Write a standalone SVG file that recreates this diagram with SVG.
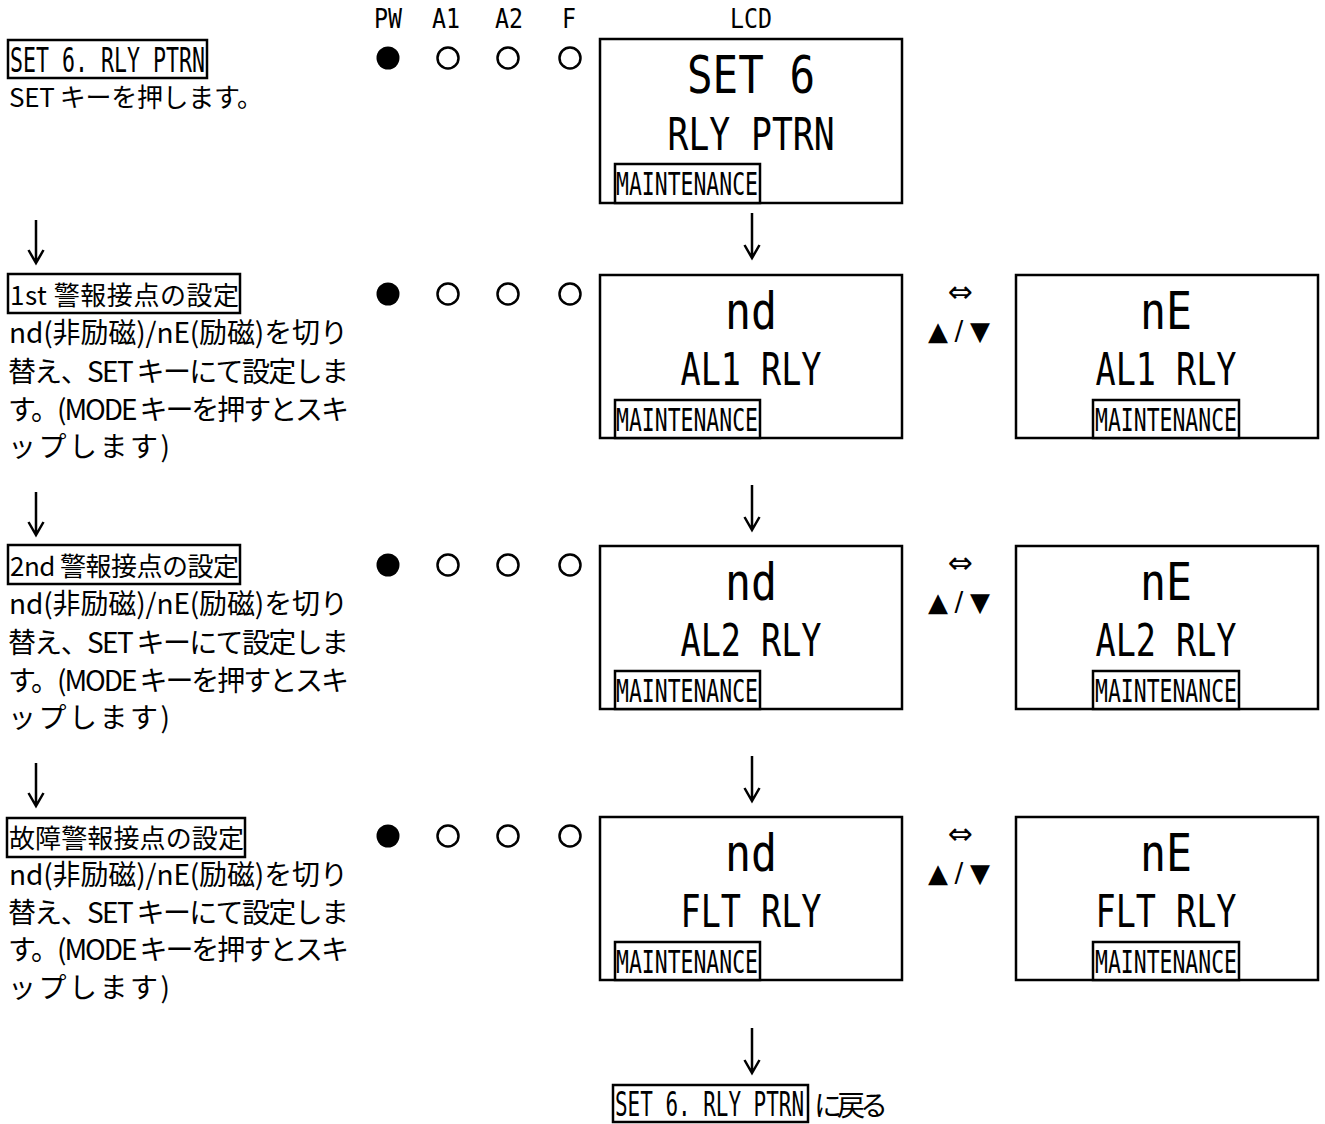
<svg xmlns="http://www.w3.org/2000/svg" width="1325" height="1124" viewBox="0 0 1325 1124">
<style>
.bg{fill:#fff}
.box{fill:none;stroke:#000;stroke-width:2.5}
.tbox{fill:#fff;stroke:#000;stroke-width:2.5}
.mono{font-family:'DejaVu Sans Mono','Liberation Mono',monospace;fill:#000}
.jp{font-family:'Noto Sans CJK JP','Noto Sans',sans-serif;font-size:26px;fill:#000}
.jb{font-family:'Noto Sans CJK JP','Noto Sans',sans-serif;font-size:28px;fill:#000}
.sym{font-family:'DejaVu Sans',sans-serif;fill:#000}
.mid{text-anchor:middle}
.lbl{font-size:27px}
.big{font-size:52px}
.sub{font-size:44px}
.mt{font-size:31.5px}
.hd{font-size:34px}
.on{fill:#000}
.off{fill:#fff;stroke:#000;stroke-width:2.5}
.arr{fill:none;stroke:#000;stroke-width:2.5}
</style>
<rect class="bg" x="0" y="0" width="1325" height="1124"/>

<g id="header">
<text class="mono lbl mid" x="388" y="28" textLength="28" lengthAdjust="spacingAndGlyphs">PW</text>
<text class="mono lbl mid" x="446" y="28" textLength="28" lengthAdjust="spacingAndGlyphs">A1</text>
<text class="mono lbl mid" x="509" y="28" textLength="28" lengthAdjust="spacingAndGlyphs">A2</text>
<text class="mono lbl mid" x="569" y="28" textLength="14" lengthAdjust="spacingAndGlyphs">F</text>
<text class="mono lbl mid" x="751" y="28" textLength="42" lengthAdjust="spacingAndGlyphs">LCD</text>
</g>

<!-- Step 1 -->
<g id="step1-text">
<rect class="box" x="8" y="40" width="199" height="38"/>
<text class="mono hd" transform="translate(10,72) scale(0.635,1)" x="0" y="0">SET 6. RLY PTRN</text>
<text class="jp" x="9" y="107" textLength="254" lengthAdjust="spacing">SET キーを押します。</text>
</g>
<g id="step1-leds">
<circle class="on" cx="388" cy="58" r="11.5"/>
<circle class="off" cx="448" cy="58" r="10.5"/>
<circle class="off" cx="508" cy="58" r="10.5"/>
<circle class="off" cx="570" cy="58" r="10.5"/>
</g>
<g id="lcd1">
<rect class="box" x="600" y="39" width="302" height="164"/>
<text class="mono big mid" x="751" y="93" textLength="128" lengthAdjust="spacingAndGlyphs">SET 6</text>
<text class="mono sub mid" x="751" y="150" textLength="167" lengthAdjust="spacingAndGlyphs">RLY PTRN</text>
<rect class="tbox" x="615" y="164" width="145" height="39"/>
<text class="mono mt" x="616" y="195" textLength="142" lengthAdjust="spacingAndGlyphs">MAINTENANCE</text>
</g>

<!-- Step 2 -->
<g id="step2-text">
<rect class="box" x="8" y="274" width="232" height="39"/>
<text class="jp" x="10" y="305" textLength="229" lengthAdjust="spacing">1st 警報接点の設定</text>
<text class="jb" x="9" y="343" textLength="339" lengthAdjust="spacing">nd(非励磁)/nE(励磁)を切り</text>
<text class="jb" x="8" y="382" textLength="341" lengthAdjust="spacing">替え、SET キーにて設定しま</text>
<text class="jb" x="8" y="420" textLength="341" lengthAdjust="spacing">す。(MODE キーを押すとスキ</text>
<text class="jb" x="8" y="457" textLength="162" lengthAdjust="spacing">ップします)</text>
</g>
<g id="step2-leds">
<circle class="on" cx="388" cy="294" r="11.5"/>
<circle class="off" cx="448" cy="294" r="10.5"/>
<circle class="off" cx="508" cy="294" r="10.5"/>
<circle class="off" cx="570" cy="294" r="10.5"/>
</g>
<g id="lcd2a">
<rect class="box" x="600" y="275" width="302" height="163"/>
<text class="mono big mid" x="751" y="329" textLength="52" lengthAdjust="spacingAndGlyphs">nd</text>
<text class="mono sub mid" x="751" y="385" textLength="141" lengthAdjust="spacingAndGlyphs">AL1 RLY</text>
<rect class="tbox" x="615" y="400" width="145" height="38"/>
<text class="mono mt" x="616" y="431" textLength="142" lengthAdjust="spacingAndGlyphs">MAINTENANCE</text>
</g>
<g id="toggle2">
<text class="sym mid" x="960" y="302" font-size="30">⇔</text>
<text class="sym mid" x="959" y="340" font-size="26" textLength="62" lengthAdjust="spacing">▲/▼</text>
</g>
<g id="lcd2b">
<rect class="box" x="1016" y="275" width="302" height="163"/>
<text class="mono big mid" x="1166" y="329" textLength="52" lengthAdjust="spacingAndGlyphs">nE</text>
<text class="mono sub mid" x="1166" y="385" textLength="141" lengthAdjust="spacingAndGlyphs">AL1 RLY</text>
<rect class="tbox" x="1093" y="400" width="146" height="38"/>
<text class="mono mt" x="1095" y="431" textLength="142" lengthAdjust="spacingAndGlyphs">MAINTENANCE</text>
</g>

<!-- Step 3 -->
<g id="step3-text">
<rect class="box" x="8" y="545" width="232" height="39"/>
<text class="jp" x="10" y="576" textLength="229" lengthAdjust="spacing">2nd 警報接点の設定</text>
<text class="jb" x="9" y="614" textLength="339" lengthAdjust="spacing">nd(非励磁)/nE(励磁)を切り</text>
<text class="jb" x="8" y="653" textLength="341" lengthAdjust="spacing">替え、SET キーにて設定しま</text>
<text class="jb" x="8" y="691" textLength="341" lengthAdjust="spacing">す。(MODE キーを押すとスキ</text>
<text class="jb" x="8" y="728" textLength="162" lengthAdjust="spacing">ップします)</text>
</g>
<g id="step3-leds">
<circle class="on" cx="388" cy="565" r="11.5"/>
<circle class="off" cx="448" cy="565" r="10.5"/>
<circle class="off" cx="508" cy="565" r="10.5"/>
<circle class="off" cx="570" cy="565" r="10.5"/>
</g>
<g id="lcd3a">
<rect class="box" x="600" y="546" width="302" height="163"/>
<text class="mono big mid" x="751" y="600" textLength="52" lengthAdjust="spacingAndGlyphs">nd</text>
<text class="mono sub mid" x="751" y="656" textLength="141" lengthAdjust="spacingAndGlyphs">AL2 RLY</text>
<rect class="tbox" x="615" y="671" width="145" height="38"/>
<text class="mono mt" x="616" y="702" textLength="142" lengthAdjust="spacingAndGlyphs">MAINTENANCE</text>
</g>
<g id="toggle3">
<text class="sym mid" x="960" y="573" font-size="30">⇔</text>
<text class="sym mid" x="959" y="611" font-size="26" textLength="62" lengthAdjust="spacing">▲/▼</text>
</g>
<g id="lcd3b">
<rect class="box" x="1016" y="546" width="302" height="163"/>
<text class="mono big mid" x="1166" y="600" textLength="52" lengthAdjust="spacingAndGlyphs">nE</text>
<text class="mono sub mid" x="1166" y="656" textLength="141" lengthAdjust="spacingAndGlyphs">AL2 RLY</text>
<rect class="tbox" x="1093" y="671" width="146" height="38"/>
<text class="mono mt" x="1095" y="702" textLength="142" lengthAdjust="spacingAndGlyphs">MAINTENANCE</text>
</g>

<!-- Step 4 -->
<g id="step4-text">
<rect class="box" x="7" y="818" width="238" height="39"/>
<text class="jp" x="9" y="848" textLength="235" lengthAdjust="spacing">故障警報接点の設定</text>
<text class="jb" x="9" y="885" textLength="339" lengthAdjust="spacing">nd(非励磁)/nE(励磁)を切り</text>
<text class="jb" x="8" y="923" textLength="341" lengthAdjust="spacing">替え、SET キーにて設定しま</text>
<text class="jb" x="8" y="960" textLength="341" lengthAdjust="spacing">す。(MODE キーを押すとスキ</text>
<text class="jb" x="8" y="998" textLength="162" lengthAdjust="spacing">ップします)</text>
</g>
<g id="step4-leds">
<circle class="on" cx="388" cy="836" r="11.5"/>
<circle class="off" cx="448" cy="836" r="10.5"/>
<circle class="off" cx="508" cy="836" r="10.5"/>
<circle class="off" cx="570" cy="836" r="10.5"/>
</g>
<g id="lcd4a">
<rect class="box" x="600" y="817" width="302" height="163"/>
<text class="mono big mid" x="751" y="871" textLength="52" lengthAdjust="spacingAndGlyphs">nd</text>
<text class="mono sub mid" x="751" y="927" textLength="141" lengthAdjust="spacingAndGlyphs">FLT RLY</text>
<rect class="tbox" x="615" y="942" width="145" height="38"/>
<text class="mono mt" x="616" y="973" textLength="142" lengthAdjust="spacingAndGlyphs">MAINTENANCE</text>
</g>
<g id="toggle4">
<text class="sym mid" x="960" y="844" font-size="30">⇔</text>
<text class="sym mid" x="959" y="882" font-size="26" textLength="62" lengthAdjust="spacing">▲/▼</text>
</g>
<g id="lcd4b">
<rect class="box" x="1016" y="817" width="302" height="163"/>
<text class="mono big mid" x="1166" y="871" textLength="52" lengthAdjust="spacingAndGlyphs">nE</text>
<text class="mono sub mid" x="1166" y="927" textLength="141" lengthAdjust="spacingAndGlyphs">FLT RLY</text>
<rect class="tbox" x="1093" y="942" width="146" height="38"/>
<text class="mono mt" x="1095" y="973" textLength="142" lengthAdjust="spacingAndGlyphs">MAINTENANCE</text>
</g>

<!-- Return -->
<g id="return">
<rect class="box" x="613" y="1085" width="195" height="37"/>
<text class="mono hd" transform="translate(615,1116) scale(0.616,1)" x="0" y="0">SET 6. RLY PTRN</text>
<text class="jb" x="814" y="1116" textLength="74" lengthAdjust="spacing">に戻る</text>
</g>

<g id="connectors">
<path class="arr" d="M752,213V258M744.5,245L752,258L759.5,245"/>
<path class="arr" d="M752,485V530M744.5,517L752,530L759.5,517"/>
<path class="arr" d="M752,756V801M744.5,788L752,801L759.5,788"/>
<path class="arr" d="M752,1028V1073M744.5,1060L752,1073L759.5,1060"/>
<path class="arr" d="M36,220V263M28.5,250L36,263L43.5,250"/>
<path class="arr" d="M36,492V535M28.5,522L36,535L43.5,522"/>
<path class="arr" d="M36,763V806M28.5,793L36,806L43.5,793"/>
</g>
</svg>
